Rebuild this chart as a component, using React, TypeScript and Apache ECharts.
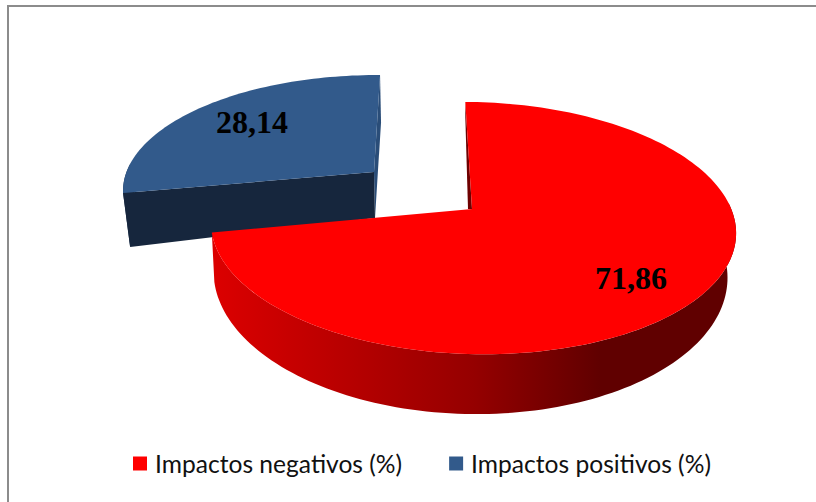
import React, { useEffect, useRef } from "react";
import * as echarts from "echarts";

const categories = ["Impactos negativos (%)", "Impactos positivos (%)"];
const negativeValues = [71.86];
const positiveValues = [28.14];

const total = negativeValues[0] + positiveValues[0];
const START_DEG = -1.7;

type Face = { cx: number; cy: number; a: number; b: number; c: number; d: number };
const K = 0.151;
const M = 0.006;

const redTop: Face = { cx: 472, cy: 209, a: 259.5, b: 0, c: 5, d: 123.2 };
const redBottom: Face = { cx: 469, cy: 253.5, a: 254, b: 0, c: 3, d: 136.3 };
const blueTop: Face = { cx: 374, cy: 172, a: 247, b: -14.3, c: 4.8, d: 111.5 };
const blueBottom: Face = { cx: 375, cy: 218, a: 241, b: -14.1, c: -3.4, d: 110.5 };

function project(f: Face, deg: number, radial = 1): number[] {
  const t = (deg * Math.PI) / 180;
  const u = Math.sin(t) * radial;
  const v = -Math.cos(t) * radial;
  const w = 1 - K * v - M * u;
  return [f.cx + (f.a * u + f.b * v) / w, f.cy + (f.c * u + f.d * v) / w];
}

function rim(f: Face, from: number, to: number): number[][] {
  const pts: number[][] = [];
  const n = Math.max(2, Math.ceil(Math.abs(to - from) / 1.5));
  for (let i = 0; i <= n; i++) pts.push(project(f, from + ((to - from) * i) / n));
  return pts;
}

const poly = (points: number[][], fill: any, z2 = 0) => ({
  type: "polygon",
  z2,
  shape: { points },
  style: { fill, stroke: "none" },
});

const label = (text: string, x: number, y: number) => ({
  type: "text",
  z2: 10,
  style: {
    x,
    y,
    text,
    fill: "#000000",
    font: 'bold 32px "Liberation Serif"',
    align: "center",
    verticalAlign: "middle",
  },
});

const redWall = new echarts.graphic.LinearGradient(0, 0, 1, 0, [
  { offset: 0, color: "#dc0000" },
  { offset: 0.5, color: "#950000" },
  { offset: 0.74, color: "#600000" },
  { offset: 1, color: "#600000" },
]);

function renderNegative(_: any, api: any) {
  const value = api.value(0);
  const sweep = (value / total) * 360;
  const end = START_DEG + sweep;
  const top = [[redTop.cx, redTop.cy], ...rim(redTop, START_DEG, end)];
  const outer = [...rim(redTop, 85, end), ...rim(redBottom, end, 85)];
  const rimStart = project(redTop, START_DEG);
  const cut = [
    [redTop.cx, redTop.cy],
    rimStart,
    [rimStart[0], rimStart[1] + 15],
    [redTop.cx - 4, redTop.cy],
  ];
  return {
    type: "group",
    children: [
      poly(cut, "#6e0000", 0),
      poly(outer, redWall, 1),
      poly(top, "#ff0000", 2),
      label(String(value).replace(".", ","), 631, 278),
    ],
  };
}

function renderPositive(_: any, api: any) {
  const value = api.value(0);
  const sweep = (value / total) * 360;
  const from = START_DEG - sweep + 360;
  const to = START_DEG + 360;
  const top = [[blueTop.cx, blueTop.cy], ...rim(blueTop, from, to)];
  const cutRight = [
    [blueTop.cx, blueTop.cy],
    project(blueTop, to),
    project(blueBottom, to),
    [blueBottom.cx, blueBottom.cy],
  ];
  const cutLeft = [
    [blueTop.cx, blueTop.cy],
    project(blueTop, from),
    project(blueBottom, from),
    [blueBottom.cx, blueBottom.cy],
  ];
  const outer = [...rim(blueTop, from, 272), ...rim(blueBottom, 272, from)];
  return {
    type: "group",
    children: [
      poly(cutRight, "#2a4d78", 0),
      poly(outer, "#1c3350", 1),
      poly(cutLeft, "#16263d", 2),
      poly(top, "#325a8b", 3),
      label(String(value).replace(".", ","), 252, 122),
    ],
  };
}

export default function App() {
  const ref = useRef<HTMLDivElement>(null);
  useEffect(() => {
    const chart = echarts.init(ref.current!, undefined, { renderer: "svg" });
    chart.setOption({
      animation: false,
      backgroundColor: "#ffffff",
      legend: {
        data: categories,
        left: 133,
        top: 451,
        padding: 0,
        icon: "rect",
        itemWidth: 14,
        itemHeight: 14,
        itemGap: 47,
        textStyle: { fontFamily: "Lato", fontSize: 24.6, color: "#111111", padding: [0, 0, 0, 3] },
      },
      graphic: [
        {
          type: "polyline",
          shape: { points: [[8, 502], [8, 6], [816, 6]] },
          style: { stroke: "#8c8c8c", lineWidth: 2, fill: "none" },
        },
      ],
      series: [
        {
          type: "custom",
          name: categories[1],
          z: 1,
          coordinateSystem: "none",
          data: positiveValues,
          color: "#325a8b",
          itemStyle: { color: "#325a8b" },
          renderItem: renderPositive,
        },
        {
          type: "custom",
          name: categories[0],
          z: 2,
          coordinateSystem: "none",
          data: negativeValues,
          color: "#ff0000",
          itemStyle: { color: "#ff0000" },
          renderItem: renderNegative,
        },
      ],
    });
    return () => chart.dispose();
  }, []);
  return <div ref={ref} style={{ position: "absolute", left: 0, top: 0, width: 816, height: 502 }} />;
}
